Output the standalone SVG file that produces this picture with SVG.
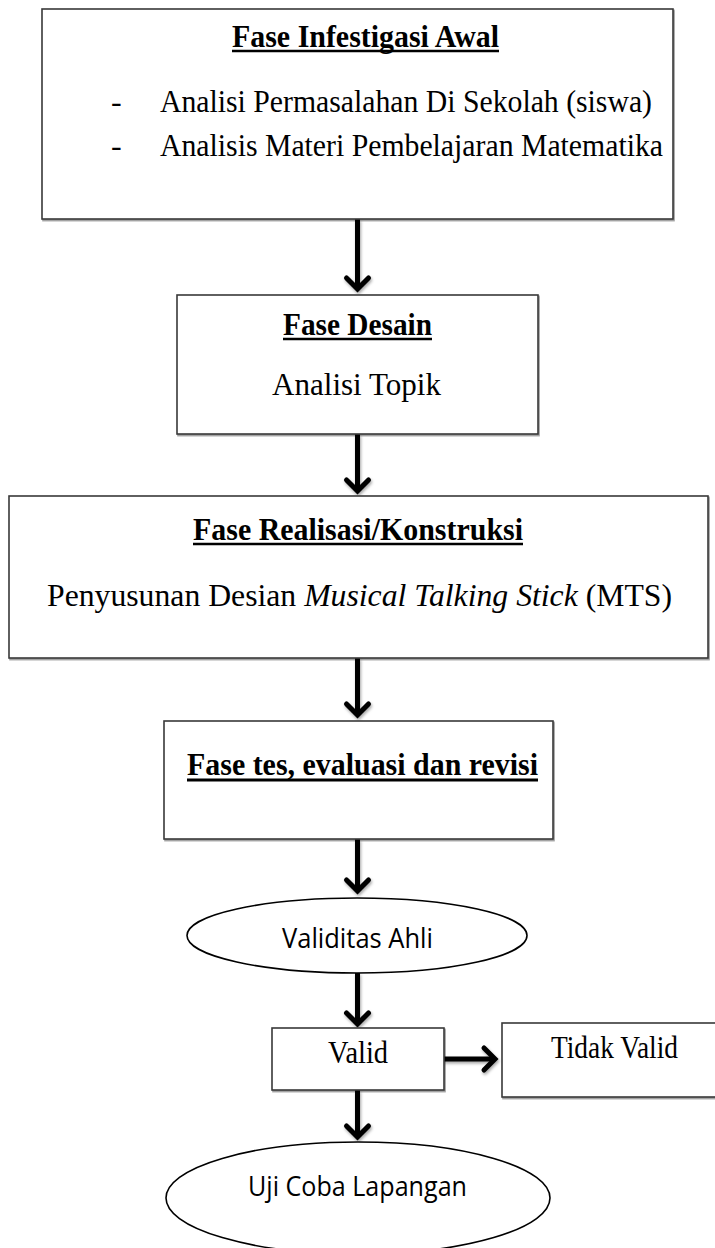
<svg xmlns="http://www.w3.org/2000/svg" width="715" height="1248" viewBox="0 0 715 1248">
<style>
.box{fill:#fff;stroke:#3a3a3a;stroke-width:1.6;filter:url(#sh)}
.ell{fill:#fff;stroke:#000;stroke-width:1.6}
.t{font-family:"Liberation Serif","Times New Roman",serif;font-size:32px;fill:#000}
.b{font-weight:bold}
.s{font-family:"Open Sans","Noto Sans",sans-serif;font-size:27px;fill:#000}
.ul{stroke:#000;stroke-width:2.4}
.ar{stroke:#000;stroke-width:5;fill:none;marker-end:url(#ah)}
</style>
<defs>
<filter id="sh" x="-5%" y="-5%" width="110%" height="115%"><feDropShadow dx="1" dy="1.5" stdDeviation="0.7" flood-color="#000" flood-opacity="0.4"/></filter>
<filter id="ash" filterUnits="userSpaceOnUse" x="0" y="0" width="715" height="1248"><feDropShadow dx="1" dy="2" stdDeviation="1.5" flood-color="#000" flood-opacity="0.35"/></filter>
<marker id="ah" markerUnits="userSpaceOnUse" viewBox="-18 -18 36 36" markerWidth="36" markerHeight="36" refX="0" refY="0" orient="auto">
<path d="M-11,-11 L0,0 L-11,11" fill="none" stroke="#000" stroke-width="5" stroke-linecap="round" stroke-linejoin="miter"/>
</marker>
</defs>
<g id="connectors" filter="url(#ash)">
<line class="ar" x1="357.5" y1="219" x2="357.5" y2="289"/>
<line class="ar" x1="357.5" y1="434" x2="357.5" y2="491"/>
<line class="ar" x1="357.5" y1="658" x2="357.5" y2="715"/>
<line class="ar" x1="357.5" y1="839" x2="357.5" y2="891"/>
<line class="ar" x1="357.5" y1="973" x2="357.5" y2="1024"/>
<line class="ar" x1="443" y1="1059" x2="495" y2="1059"/>
<line class="ar" x1="357.5" y1="1090" x2="357.5" y2="1137"/>
</g>
<g id="n1">
<rect class="box" x="42" y="9" width="631" height="210"/>
<text class="t b" x="232" y="47" textLength="267" lengthAdjust="spacingAndGlyphs">Fase Infestigasi Awal</text>
<line class="ul" x1="232" y1="51" x2="499" y2="51"/>
<text class="t" x="111" y="112">-</text>
<text class="t" x="160" y="112" textLength="492" lengthAdjust="spacingAndGlyphs">Analisi Permasalahan Di Sekolah (siswa)</text>
<text class="t" x="111" y="156">-</text>
<text class="t" x="160" y="156" textLength="503" lengthAdjust="spacingAndGlyphs">Analisis Materi Pembelajaran Matematika</text>
</g>
<g id="n2">
<rect class="box" x="177" y="295" width="361" height="139"/>
<text class="t b" x="283" y="335" textLength="149" lengthAdjust="spacingAndGlyphs">Fase Desain</text>
<line class="ul" x1="283" y1="339" x2="432" y2="339"/>
<text class="t" x="272" y="395" textLength="169" lengthAdjust="spacingAndGlyphs">Analisi Topik</text>
</g>
<g id="n3">
<rect class="box" x="9" y="496" width="699" height="162"/>
<text class="t b" x="193" y="540" textLength="330" lengthAdjust="spacingAndGlyphs">Fase Realisasi/Konstruksi</text>
<line class="ul" x1="193" y1="544" x2="523" y2="544"/>
<text class="t" x="47" y="606" textLength="625" lengthAdjust="spacingAndGlyphs">Penyusunan Desian <tspan font-style="italic">Musical Talking Stick</tspan> (MTS)</text>
</g>
<g id="n4">
<rect class="box" x="164" y="721" width="389" height="118"/>
<text class="t b" x="187" y="775" textLength="351" lengthAdjust="spacingAndGlyphs">Fase tes, evaluasi dan revisi</text>
<line class="ul" x1="187" y1="780" x2="538" y2="780" style="stroke-width:3"/>
</g>
<g id="n5">
<ellipse class="ell" cx="357" cy="935.5" rx="170" ry="37.5"/>
<text class="s" x="282" y="948" textLength="151" lengthAdjust="spacingAndGlyphs">Validitas Ahli</text>
</g>
<g id="n6">
<rect class="box" x="272" y="1028" width="172" height="62"/>
<text class="t" x="328" y="1063" textLength="60" lengthAdjust="spacingAndGlyphs">Valid</text>
</g>
<g id="n7">
<rect class="box" x="502" y="1023" width="230" height="74"/>
<text class="t" x="551" y="1058" textLength="127" lengthAdjust="spacingAndGlyphs">Tidak Valid</text>
</g>
<g id="n8">
<ellipse class="ell" cx="358" cy="1198" rx="192" ry="56"/>
<text class="s" x="248" y="1196" textLength="219" lengthAdjust="spacingAndGlyphs">Uji Coba Lapangan</text>
</g>
</svg>
